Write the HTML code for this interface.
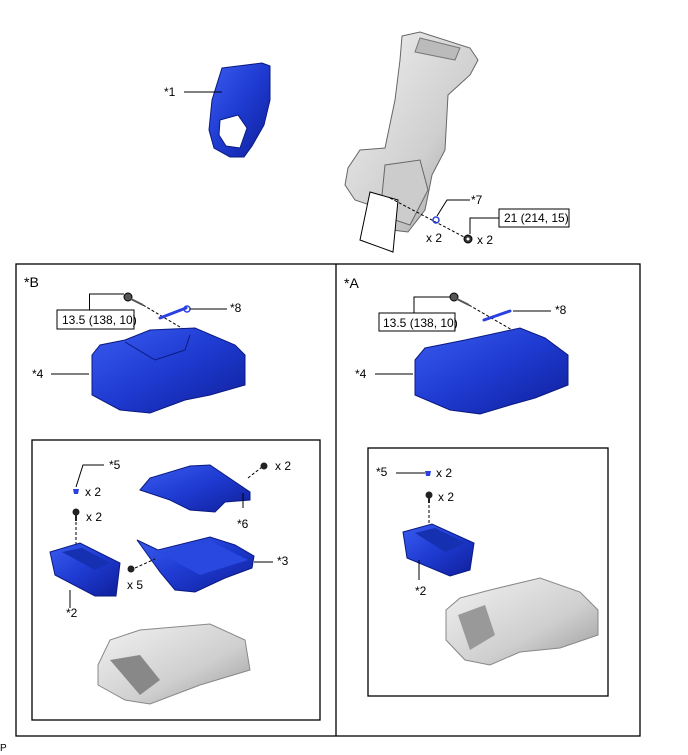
<!DOCTYPE html>
<html><head><meta charset="utf-8"><style>
html,body{margin:0;padding:0;background:#fff;}
svg{display:block;font-family:"Liberation Sans",Arial,sans-serif;}
</style></head><body>
<svg width="688" height="755" viewBox="0 0 688 755" xmlns="http://www.w3.org/2000/svg">
<defs>
<linearGradient id="bl" x1="0" y1="0" x2="1" y2="1"><stop offset="0" stop-color="#3a5cf0"/><stop offset="0.5" stop-color="#1e3ad0"/><stop offset="1" stop-color="#0f1f9a"/></linearGradient>
<linearGradient id="gr" x1="0" y1="0" x2="1" y2="1"><stop offset="0" stop-color="#f2f2f2"/><stop offset="0.6" stop-color="#cfcfcf"/><stop offset="1" stop-color="#9a9a9a"/></linearGradient>
</defs>
<g font-size="12" fill="#000">
<!-- top: part *1 -->
<path d="M222,68 L262,63 L270,66 L270,100 L264,125 L252,146 L244,157 L230,157 L214,148 L209,130 L212,100 Z" fill="url(#bl)" stroke="#0a1a80" stroke-width="1"/>
<path d="M220,120 L238,115 L247,128 L240,148 L226,146 L219,135 Z" fill="#fff" stroke="#0a1a80"/>
<line x1="184" y1="92" x2="222" y2="92" stroke="#000"/>
<text x="164" y="96">*1</text>
<!-- top: seat frame -->
<path d="M402,36 L420,32 L470,48 L478,60 L470,75 L448,95 L445,150 L432,175 L425,210 L408,232 L392,230 L370,205 L355,200 L345,185 L348,168 L360,150 L385,148 L395,100 L400,60 Z" fill="url(#gr)" stroke="#666" stroke-width="1"/>
<path d="M420,38 L460,48 L455,60 L415,52 Z" fill="#bbb" stroke="#777"/>
<path d="M385,165 L420,160 L428,190 L410,225 L380,215 Z" fill="#ccc" stroke="#666"/>
<path d="M370,192 L398,200 L393,252 L360,240 Z" fill="#fff" stroke="#000"/>
<line x1="390" y1="198" x2="466" y2="238" stroke="#000" stroke-dasharray="3,2"/>
<circle cx="436" cy="220" r="3" fill="none" stroke="#2a40e0" stroke-width="1.5"/>
<polyline points="437,216 447,200 470,200" fill="none" stroke="#000"/>
<text x="471" y="204">*7</text>
<text x="426" y="242">x 2</text>
<circle cx="468" cy="239" r="4" fill="#333" stroke="#000"/><circle cx="468" cy="239" r="1.5" fill="#fff"/>
<polyline points="470,234 470,218 499,218" fill="none" stroke="#000"/>
<rect x="499" y="209" width="70" height="18" fill="#fff" stroke="#000"/>
<text x="504" y="222">21 (214, 15)</text>
<text x="477" y="244">x 2</text>

<!-- frames -->
<rect x="16" y="264" width="624" height="472" fill="none" stroke="#000" stroke-width="1.3"/>
<line x1="336" y1="264" x2="336" y2="736" stroke="#000" stroke-width="1.3"/>
<rect x="32" y="440" width="288" height="280" fill="none" stroke="#000" stroke-width="1.3"/>
<rect x="368" y="448" width="240" height="248" fill="none" stroke="#000" stroke-width="1.3"/>

<!-- LEFT *B -->
<text x="24" y="287" font-size="14">*B</text>
<circle cx="128" cy="297" r="4" fill="#555" stroke="#000"/><line x1="131" y1="299" x2="143" y2="305" stroke="#555" stroke-width="2"/>
<polyline points="89.5,310 89.5,294 124,294" fill="none" stroke="#000"/>
<rect x="57" y="310" width="77" height="19" fill="#fff" stroke="#000"/>
<text x="62" y="324">13.5 (138, 10)</text>
<line x1="143" y1="305" x2="185" y2="330" stroke="#000" stroke-dasharray="3,2"/>
<path d="M160,318 L186,308" stroke="#2a40e0" stroke-width="3" fill="none" stroke-linecap="round"/>
<circle cx="187" cy="309" r="3" fill="none" stroke="#2a40e0" stroke-width="1.5"/>
<line x1="190" y1="309" x2="227" y2="309" stroke="#000"/>
<text x="230" y="312">*8</text>
<path d="M92,355 L100,345 L125,340 L150,330 L195,328 L235,345 L245,355 L245,385 L210,395 L185,400 L150,413 L120,410 L92,395 Z" fill="url(#bl)" stroke="#0a1a80"/>
<path d="M125,342 L155,360 L185,350 L190,335" fill="none" stroke="#0a1a80"/>
<line x1="51" y1="374" x2="89" y2="374" stroke="#000"/>
<text x="32" y="378">*4</text>

<!-- inner left -->
<text x="109" y="469">*5</text>
<polyline points="104,465 83,465 76,487" fill="none" stroke="#000"/>
<path d="M73,489 L79,489 L78,494 L74,494 Z" fill="#2a40e0"/>
<text x="85" y="496">x 2</text>
<circle cx="76" cy="512" r="3.5" fill="#222"/><line x1="76" y1="515" x2="76" y2="521" stroke="#222" stroke-width="2"/>
<text x="86" y="521">x 2</text>
<line x1="76" y1="522" x2="76" y2="545" stroke="#000" stroke-dasharray="3,2"/>
<path d="M50,552 L80,543 L120,563 L116,596 L95,596 L55,575 Z" fill="url(#bl)" stroke="#0a1a80"/>
<path d="M62,552 L82,548 L110,563 L95,570 Z" fill="#1530b0"/>
<line x1="70" y1="590" x2="70" y2="608" stroke="#000"/>
<text x="66" y="617">*2</text>
<path d="M140,490 L150,478 L190,466 L210,465 L250,492 L250,500 L225,502 L215,512 L190,510 L170,500 Z" fill="url(#bl)" stroke="#0a1a80"/>
<line x1="243" y1="493" x2="243" y2="508" stroke="#000"/>
<text x="237" y="528">*6</text>
<line x1="248" y1="478" x2="262" y2="467" stroke="#000" stroke-dasharray="3,2"/>
<circle cx="264" cy="466" r="3.5" fill="#222"/>
<text x="275" y="470">x 2</text>
<path d="M137,540 L158,550 L210,537 L235,545 L254,556 L252,568 L225,578 L195,592 L175,590 L160,572 Z" fill="url(#bl)" stroke="#0a1a80"/>
<path d="M160,553 L210,541 L248,560 L200,575 Z" fill="#2848e0"/>
<line x1="254" y1="562" x2="273" y2="562" stroke="#000"/>
<text x="277" y="565">*3</text>
<line x1="135" y1="568" x2="155" y2="559" stroke="#000" stroke-dasharray="3,2"/>
<circle cx="131" cy="569" r="3.5" fill="#222"/>
<text x="127" y="589">x 5</text>
<path d="M98,665 L110,640 L140,630 L210,624 L245,640 L250,670 L200,685 L150,704 L125,700 L98,685 Z" fill="url(#gr)" stroke="#888"/>
<path d="M110,660 L140,655 L160,680 L140,695 Z" fill="#888"/>

<!-- RIGHT *A -->
<text x="344" y="288" font-size="14">*A</text>
<circle cx="454" cy="297" r="4" fill="#555" stroke="#000"/><line x1="457" y1="299" x2="469" y2="305" stroke="#555" stroke-width="2"/>
<polyline points="414,313 414,297 450,297" fill="none" stroke="#000"/>
<rect x="379" y="313" width="76" height="18" fill="#fff" stroke="#000"/>
<text x="383" y="327">13.5 (138, 10)</text>
<line x1="469" y1="305" x2="512" y2="330" stroke="#000" stroke-dasharray="3,2"/>
<path d="M484,320 L510,311" stroke="#2a40e0" stroke-width="3" fill="none" stroke-linecap="round"/>
<line x1="513" y1="311" x2="551" y2="311" stroke="#000"/>
<text x="555" y="314">*8</text>
<path d="M415,360 L425,348 L465,340 L520,328 L545,338 L568,355 L568,385 L535,398 L510,405 L480,414 L450,410 L415,395 Z" fill="url(#bl)" stroke="#0a1a80"/>
<line x1="375" y1="374" x2="413" y2="374" stroke="#000"/>
<text x="355" y="378">*4</text>

<text x="376" y="476">*5</text>
<line x1="396" y1="473" x2="425" y2="473" stroke="#000"/>
<path d="M425,471 L431,471 L430,476 L426,476 Z" fill="#2a40e0"/>
<text x="436" y="477">x 2</text>
<circle cx="429" cy="495" r="3.5" fill="#222"/><line x1="429" y1="498" x2="429" y2="503" stroke="#222" stroke-width="2"/>
<text x="438" y="501">x 2</text>
<line x1="429" y1="505" x2="429" y2="525" stroke="#000" stroke-dasharray="3,2"/>
<path d="M403,532 L432,524 L474,543 L470,570 L450,576 L407,558 Z" fill="url(#bl)" stroke="#0a1a80"/>
<path d="M415,533 L435,528 L465,543 L445,552 Z" fill="#1530b0"/>
<line x1="419" y1="560" x2="419" y2="580" stroke="#000"/>
<text x="415" y="595">*2</text>
<path d="M446,610 L460,598 L490,590 L540,578 L580,592 L598,610 L598,635 L560,648 L520,652 L490,665 L465,660 L446,640 Z" fill="url(#gr)" stroke="#888"/>
<path d="M458,615 L485,605 L495,635 L470,650 Z" fill="#999"/>

<text x="0" y="751" font-size="10">P</text>
</g>
</svg>
</body></html>
